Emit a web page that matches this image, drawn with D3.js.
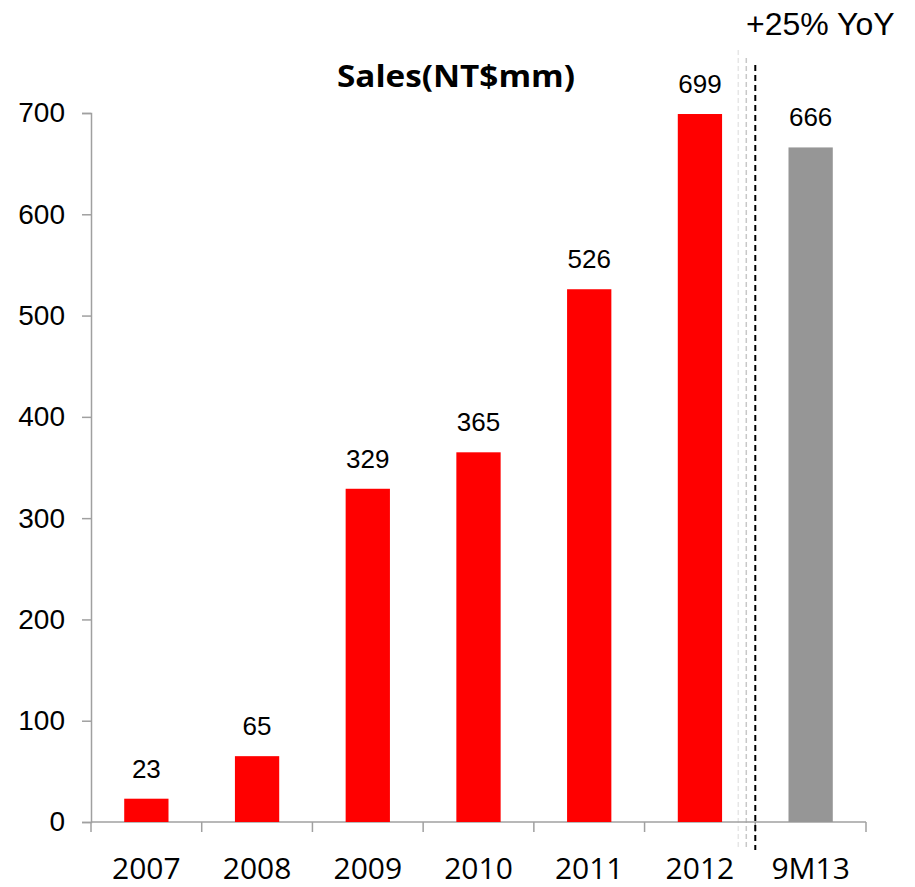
<!DOCTYPE html>
<html>
<head>
<meta charset="utf-8">
<script src="https://cdn.jsdelivr.net/npm/d3@7"></script>
<style>
  body { margin: 0; background: #fff; }
  svg { display: block; }
</style>
</head>
<body>
<div id="chart"></div>
<script>
const width = 915,
  height = 887,
  margin = { top: 113, bottom: 65, left: 91, right: 49 };

// data
const categories = ["2007", "2008", "2009", "2010", "2011", "2012", "9M13"];
const sales = [23, 65, 329, 365, 526, 699, 666];
const barColors = ["#ff0000", "#ff0000", "#ff0000", "#ff0000", "#ff0000", "#ff0000", "#969696"];
const yTicks = [0, 100, 200, 300, 400, 500, 600, 700];
const titleText = "Sales(NT$mm)";
const noteText = "+25% YoY";

const data = categories.map((c, i) => ({ cat: c, value: sales[i], color: barColors[i] }));

const svg = d3
  .select("#chart")
  .append("svg")
  .attr("width", width)
  .attr("height", height);

const xScale = d3
  .scaleBand()
  .domain(categories)
  .range([margin.left, width - margin.right])
  .paddingInner(0.6)
  .paddingOuter(0.3);

const yScale = d3
  .scaleLinear()
  .domain([0, 700])
  .range([height - margin.bottom, margin.top]);

const step = xScale.step();
const gap = (step - xScale.bandwidth()) / 2;
const y0 = yScale(0);

// separator lines before 9M13
const sepX = xScale("9M13") - gap;
svg.append("line")
  .attr("x1", sepX - 17).attr("x2", sepX - 17)
  .attr("y1", 50).attr("y2", 850)
  .attr("stroke", "#e6e6e6").attr("stroke-width", 1.5)
  .attr("stroke-dasharray", "5,3");
svg.append("line")
  .attr("x1", sepX - 9).attr("x2", sepX - 9)
  .attr("y1", 58).attr("y2", 850)
  .attr("stroke", "#c8c8c8").attr("stroke-width", 1.5)
  .attr("stroke-dasharray", "5,3");

// y axis
const yAxis = d3.axisLeft(yScale).tickValues(yTicks).tickSize(9).tickPadding(17);
svg.append("g")
  .attr("class", "axis y-axis")
  .attr("transform", `translate(${margin.left},0)`)
  .call(yAxis)
  .call(g => g.selectAll("path, line").attr("stroke", "#a0a0a0").attr("stroke-width", 1.5))
  .call(g => g.selectAll("text")
    .attr("fill", "#000")
    .style("font-family", "'Liberation Sans', Arial, sans-serif")
    .style("font-size", "28px"));

// x axis (labels only, ticks at category boundaries)
const xAxis = d3.axisBottom(xScale).tickSize(0).tickPadding(36);
svg.append("g")
  .attr("class", "axis x-axis")
  .attr("transform", `translate(0,${y0})`)
  .call(xAxis)
  .call(g => g.select(".domain").remove())
  .call(g => g.selectAll("text")
    .attr("fill", "#000")
    .style("font-family", "'Open Sans', sans-serif")
    .style("font-size", "30px"));

svg.append("line")
  .attr("x1", margin.left).attr("x2", width - margin.right)
  .attr("y1", y0).attr("y2", y0)
  .attr("stroke", "#a0a0a0").attr("stroke-width", 1.5);

const bounds = categories.map(c => xScale(c) - gap).concat([xScale(categories[categories.length - 1]) + xScale.bandwidth() + gap]);
svg.selectAll(".xtick")
  .data(bounds)
  .join("line")
  .attr("class", "xtick")
  .attr("x1", d => d).attr("x2", d => d)
  .attr("y1", y0).attr("y2", y0 + 10)
  .attr("stroke", "#a0a0a0").attr("stroke-width", 1.5);

// bars
svg.selectAll(".bar")
  .data(data)
  .join("rect")
  .attr("class", "bar")
  .attr("x", d => xScale(d.cat))
  .attr("width", xScale.bandwidth())
  .attr("y", d => yScale(d.value))
  .attr("height", d => y0 - yScale(d.value))
  .attr("fill", d => d.color);

// value labels
svg.selectAll(".val")
  .data(data)
  .join("text")
  .attr("class", "val")
  .attr("x", d => xScale(d.cat) + xScale.bandwidth() / 2)
  .attr("y", d => yScale(d.value) - 21)
  .attr("text-anchor", "middle")
  .style("font-family", "'Liberation Sans', Arial, sans-serif")
  .style("font-size", "26px")
  .text(d => d.value);

// black dashed separator
svg.append("line")
  .attr("x1", sepX).attr("x2", sepX)
  .attr("y1", 65).attr("y2", 850)
  .attr("stroke", "#000").attr("stroke-width", 2)
  .attr("stroke-dasharray", "6,4");

// title
svg.append("text")
  .attr("x", 456)
  .attr("y", 87)
  .attr("text-anchor", "middle")
  .attr("textLength", 238)
  .attr("lengthAdjust", "spacingAndGlyphs")
  .style("font-family", "'Open Sans', sans-serif")
  .style("font-weight", "bold")
  .style("font-size", "30px")
  .text(titleText);

// YoY note
svg.append("text")
  .attr("x", 746)
  .attr("y", 35)
  .style("font-family", "'Liberation Sans', Arial, sans-serif")
  .style("font-size", "32px")
  .text(noteText);
</script>
</body>
</html>
